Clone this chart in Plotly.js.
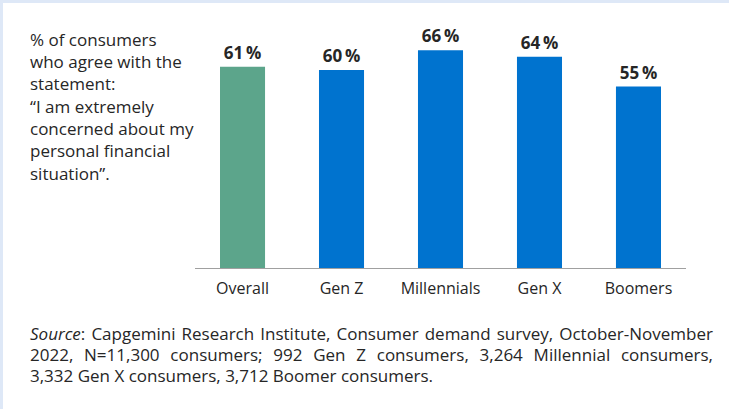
<!DOCTYPE html>
<html>
<head>
<meta charset="utf-8">
<script src="https://cdn.plot.ly/plotly-3.0.1.min.js"></script>
<style>
  html, body { margin: 0; padding: 0; background: #dee8f7; width: 729px; height: 409px; overflow: hidden; }
  #chart { position: absolute; left: 3px; top: 3px; width: 726px; height: 406px; background: #ffffff; }
</style>
</head>
<body>
<div id="chart"></div>
<script>
// ---- data ----
const categories = ['Overall', 'Gen Z', 'Millennials', 'Gen X', 'Boomers'];
const values = [61, 60, 66, 64, 55];
const barColors = ['#5ca58b', '#0073cf', '#0073cf', '#0073cf', '#0073cf'];
const noteLines = [
  '% of consumers',
  'who agree with the',
  'statement:',
  '\u201CI am extremely',
  'concerned about my',
  'personal financial',
  'situation\u201D.'
];
const sourceLines = [
  '<i>Source</i>: Capgemini Research Institute, Consumer demand survey, October-November',
  '2022, N=11,300 consumers; 992 Gen Z consumers, 3,264 Millennial consumers,',
  '3,332 Gen X consumers, 3,712 Boomer consumers.'
];

// ---- layout geometry (div pixels) ----
const W = 726, H = 406;
const M = { l: 192, r: 43, t: 34, b: 141 };
const plotW = W - M.l - M.r, plotH = H - M.t - M.b;
const offX = 3, offY = 3; // div offset in window
function px2x(px) { return (px - offX - M.l) / plotW; }
function py2y(py) { return 1 - (py - offY - M.t) / plotH; }

const FONT = '"Open Sans", "Noto Sans", sans-serif';
const TXT = '#262626';

const annotations = [];
const noteMids = [39, 61, 83, 106, 128, 150, 173];
noteLines.forEach((t, i) => {
  annotations.push({
    xref: 'paper', yref: 'paper', x: px2x(28), y: py2y(noteMids[i]),
    xanchor: 'left', yanchor: 'middle', showarrow: false, align: 'left',
    text: t, font: { family: FONT, size: 17, color: TXT }
  });
});
const srcMid = [333, 354, 375];
sourceLines.forEach((t, i) => {
  annotations.push({
    xref: 'paper', yref: 'paper', x: px2x(28), y: py2y(srcMid[i]),
    xanchor: 'left', yanchor: 'middle', showarrow: false, align: 'left',
    text: t, font: { family: FONT, size: 17, color: TXT }
  });
});

const trace = {
  type: 'bar',
  x: categories,
  y: values,
  marker: { color: barColors },
  texttemplate: '%{y}\u2009%',
  textposition: 'outside',
  constraintext: 'none',
  cliponaxis: false,
  textfont: { family: FONT, size: 17, color: TXT, weight: 'bold' },
  hoverinfo: 'skip'
};

const layout = {
  width: W, height: H,
  margin: M,
  paper_bgcolor: '#ffffff',
  plot_bgcolor: '#ffffff',
  showlegend: false,
  bargap: 0.545,
  xaxis: {
    type: 'category',
    range: [-0.48, 4.48],
    showline: true, linecolor: '#a0a0a0', linewidth: 1,
    ticks: '', showgrid: false, zeroline: false,
    ticklabelstandoff: 6,
    tickfont: { family: FONT, size: 16, color: TXT },
    fixedrange: true
  },
  yaxis: {
    range: [0, 70],
    visible: false, showgrid: false, zeroline: false, fixedrange: true
  },
  annotations: annotations
};

Plotly.newPlot('chart', [trace], layout, { staticPlot: true, displayModeBar: false }).then(() => {
  // justify first two source lines to the right edge like the reference
  const targetRight = 713;
  const texts = document.querySelectorAll('.annotation-text');
  const justify = [sourceLines[0], sourceLines[1]];
  texts.forEach(el => {
    const raw = el.textContent;
    justify.forEach(j => {
      const plain = j.replace(/<[^>]+>/g, '');
      if (raw === plain) {
        const bb = el.getBoundingClientRect();
        const spaces = (plain.match(/ /g) || []).length;
        const extra = (targetRight - bb.right) / spaces;
        el.setAttribute('word-spacing', extra.toFixed(2));
      }
    });
  });
});
</script>
</body>
</html>
